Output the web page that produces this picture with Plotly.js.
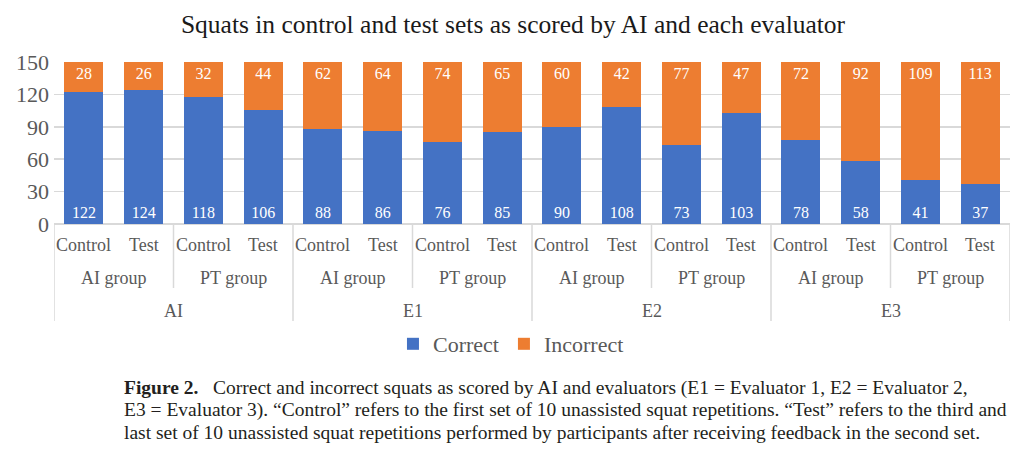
<!DOCTYPE html>
<html>
<head>
<meta charset="utf-8">
<script src="https://cdn.plot.ly/plotly-3.0.1.min.js"></script>
<style>html,body{margin:0;padding:0;background:#fff;}#chart{width:1026px;height:460px;}</style>
</head>
<body>
<div id="chart"></div>
<script>
var setLabels = ["Control","Test","Control","Test","Control","Test","Control","Test","Control","Test","Control","Test","Control","Test","Control","Test"];
var groupLabels = ["AI group","PT group","AI group","PT group","AI group","PT group","AI group","PT group"];
var evaluatorLabels = ["AI","E1","E2","E3"];
var correct   = [122,124,118,106, 88, 86, 76, 85, 90,108, 73,103, 78, 58, 41, 37];
var incorrect = [ 28, 26, 32, 44, 62, 64, 74, 65, 60, 42, 77, 47, 72, 92,109,113];
var yTicks = [0,30,60,90,120,150];

var FONT = "'Liberation Serif', 'Times New Roman', serif";
var idx = setLabels.map(function(_, i){ return i; });

var traces = [
  {type:"bar", name:"Correct", x:idx, y:correct, text:correct.map(String),
   marker:{color:"#4472C4"}, textposition:"inside", insidetextanchor:"start",
   textfont:{family:FONT, size:16, color:"#ffffff"}, hoverinfo:"y"},
  {type:"bar", name:"Incorrect", x:idx, y:incorrect, text:incorrect.map(String),
   marker:{color:"#ED7D31"}, textposition:"inside", insidetextanchor:"end",
   textfont:{family:FONT, size:16, color:"#ffffff"}, hoverinfo:"y"}
];

var plotH = 162; // px height of plot area (for paper-unit conversion)
function py(pixBelow){ return -pixBelow / plotH; }

var annotations = [];
var shapes = [];
var lineColor = "#d9d9d9";

// level 1: Control / Test
setLabels.forEach(function(t, i){
  annotations.push({x:i, y:py(21), xref:"x", yref:"paper", text:t, showarrow:false,
    font:{family:FONT, size:18, color:"#595959"}, yanchor:"middle"});
});
// level 2: groups
var gSize = setLabels.length / groupLabels.length;
groupLabels.forEach(function(t, g){
  annotations.push({x:g*gSize + (gSize-1)/2, y:py(54), xref:"x", yref:"paper", text:t, showarrow:false,
    font:{family:FONT, size:18, color:"#595959"}, yanchor:"middle"});
  if (g % 2 === 1) {
    shapes.push({type:"line", xref:"x", yref:"paper", x0:g*gSize-0.5, x1:g*gSize-0.5,
      y0:0, y1:py(64), line:{color:lineColor, width:1.5}});
  }
});
// level 3: evaluators
var eSize = setLabels.length / evaluatorLabels.length;
evaluatorLabels.forEach(function(t, e){
  annotations.push({x:e*eSize + (eSize-1)/2, y:py(87), xref:"x", yref:"paper", text:t, showarrow:false,
    font:{family:FONT, size:18, color:"#595959"}, yanchor:"middle"});
  shapes.push({type:"line", xref:"x", yref:"paper", x0:e*eSize-0.5, x1:e*eSize-0.5,
    y0:0, y1:py(97), line:{color:lineColor, width:1.5}});
});
shapes.push({type:"line", xref:"x", yref:"paper", x0:setLabels.length-0.5, x1:setLabels.length-0.5,
  y0:0, y1:py(97), line:{color:lineColor, width:1.5}});

// caption
var captionLines = [
  "<b>Figure 2.</b>   Correct and incorrect squats as scored by AI and evaluators (E1 = Evaluator 1, E2 = Evaluator 2,",
  "E3 = Evaluator 3). “Control” refers to the first set of 10 unassisted squat repetitions. “Test” refers to the third and",
  "last set of 10 unassisted squat repetitions performed by participants after receiving feedback in the second set."
];
captionLines.forEach(function(t, k){
  annotations.push({x:(122-54)/956, y:py(164 + 22*k), xref:"paper", yref:"paper", text:t, showarrow:false,
    xanchor:"left", yanchor:"middle", align:"left",
    font:{family:FONT, size:19.5, color:"#231f20"}});
});

var layout = {
  width:1026, height:460,
  margin:{l:54, r:16, t:62, b:236, pad:0},
  paper_bgcolor:"#ffffff", plot_bgcolor:"#ffffff",
  barmode:"stack", bargap:0.345,
  title:{text:"Squats in control and test sets as scored by AI and each evaluator",
    font:{family:FONT, size:25.5, color:"#1a1a1a"}, x:0.5, xanchor:"center", y:0.948, yanchor:"middle"},
  xaxis:{range:[-0.5, setLabels.length-0.5], showticklabels:false, showgrid:false, zeroline:false,
    ticks:"", fixedrange:true, showline:false},
  yaxis:{range:[0,150], tickvals:yTicks, ticktext:yTicks.map(String), showgrid:true, gridcolor:lineColor, gridwidth:1.5,
    zeroline:true, zerolinecolor:lineColor, zerolinewidth:1.5, showline:false, ticks:"",
    tickfont:{family:FONT, size:22, color:"#595959"}, ticklabelstandoff:4},
  showlegend:true,
  legend:{orientation:"h", x:0.478, xanchor:"center", y:py(120), yanchor:"middle",
    font:{family:FONT, size:22, color:"#595959"}, itemwidth:30, traceorder:"normal",
    itemclick:false, itemdoubleclick:false},
  annotations:annotations,
  shapes:shapes
};

Plotly.newPlot("chart", traces, layout, {displayModeBar:false, staticPlot:true});
</script>
</body>
</html>
